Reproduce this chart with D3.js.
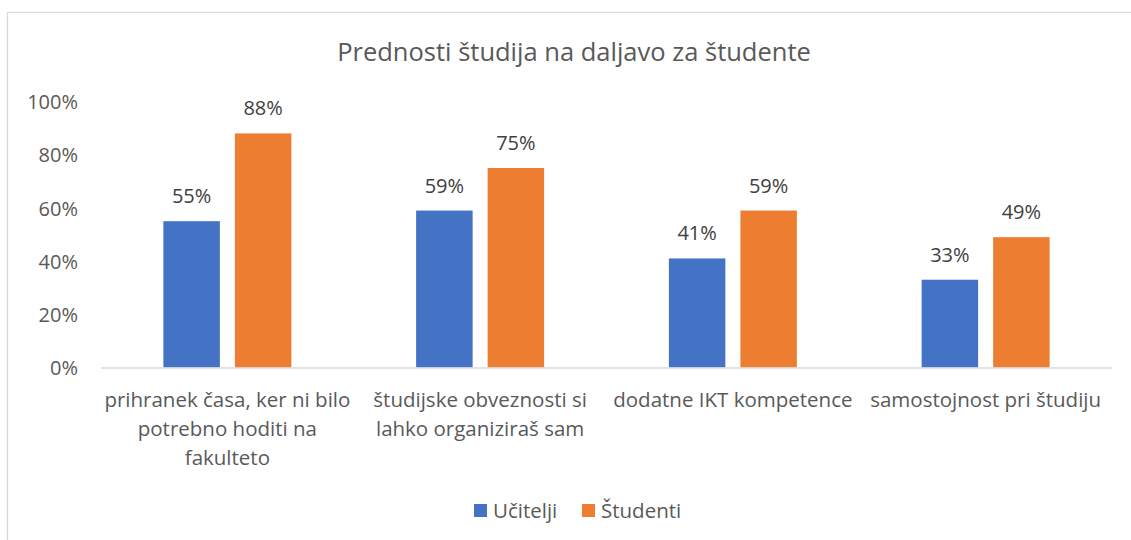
<!DOCTYPE html>
<html><head><meta charset="utf-8">
<script src="https://cdn.jsdelivr.net/npm/d3@7"></script>
<style>body{margin:0;background:#fff}svg{display:block}text{font-family:"Open Sans","Noto Sans",sans-serif}</style>
</head><body>
<svg id="c" width="1131" height="540"></svg>
<script>
const title = "Prednosti študija na daljavo za študente";
const categories = [
  ["prihranek časa, ker ni bilo", "potrebno hoditi na", "fakulteto"],
  ["študijske obveznosti si", "lahko organiziraš sam"],
  ["dodatne IKT kompetence"],
  ["samostojnost pri študiju"]
];
const seriesNames = ["Učitelji", "Študenti"];
const ucitelji = [0.55, 0.59, 0.41, 0.33];
const studenti = [0.88, 0.75, 0.59, 0.49];
const yTicks = [0, 0.2, 0.4, 0.6, 0.8, 1.0];
const colors = ["#4472C4", "#ED7D31"];

(function(){
const svg = d3.select("#c");
svg.append("rect").attr("x",7.5).attr("y",12.5).attr("width",1200).attr("height",600)
  .attr("fill","#fff").attr("stroke","#d9d9d9").attr("stroke-width",1.3);

const pLeft = 101, pRight = 1112, pTop = 101.5, pBottom = 367.5;
const catIdx = categories.map((d,i)=>i);
const x0 = d3.scaleBand().domain(catIdx).range([pLeft,pRight]).paddingInner(0).paddingOuter(0);
const x1 = d3.scaleBand().domain([0,1]).range([x0.bandwidth()/2-64, x0.bandwidth()/2+64]).paddingInner(0.21).paddingOuter(0);
const y = d3.scaleLinear().domain([0,1]).range([pBottom, pTop]);

svg.append("text").attr("x",574).attr("y",61).attr("text-anchor","middle")
  .attr("font-size",25.5).attr("fill","#595959").text(title);

const yAxis = d3.axisLeft(y).tickValues(yTicks).tickFormat(d3.format(".0%")).tickSize(0).tickPadding(0);
const ya = svg.append("g").attr("transform",`translate(78,0)`).call(yAxis);
ya.select(".domain").remove();
ya.selectAll("text").attr("font-size",20).attr("fill","#595959").attr("font-family",'"Open Sans","Noto Sans",sans-serif').attr("dy","0.36em");

const series = [ucitelji, studenti];
series.forEach((vals, s) => {
  const g = svg.append("g");
  g.selectAll("rect").data(vals).join("rect")
    .attr("x",(d,i)=>x0(i)+x1(s)).attr("width",x1.bandwidth())
    .attr("y",d=>y(d)).attr("height",d=>pBottom-y(d)).attr("fill",colors[s]);
  g.selectAll("text").data(vals).join("text")
    .attr("x",(d,i)=>x0(i)+x1(s)+x1.bandwidth()/2).attr("y",d=>y(d)-18)
    .attr("text-anchor","middle").attr("font-size",20).attr("fill","#404040")
    .text(d=>d3.format(".0%")(d));
});

svg.append("line").attr("x1",pLeft).attr("x2",pRight).attr("y1",pBottom+0.5).attr("y2",pBottom+0.5)
  .attr("stroke","#d9d9d9").attr("stroke-width",1.5);

const xa = svg.append("g");
categories.forEach((lines,i)=>{
  const t = xa.append("text").attr("text-anchor","middle").attr("font-size",20.5).attr("fill","#595959");
  lines.forEach((ln,j)=>{
    t.append("tspan").attr("x",x0(i)+x0.bandwidth()/2).attr("y",407+j*29).text(ln);
  });
});

const legX = [474, 582];
seriesNames.forEach((n,s)=>{
  svg.append("rect").attr("x",legX[s]).attr("y",504).attr("width",13).attr("height",13).attr("fill",colors[s]);
  svg.append("text").attr("x",legX[s]+19).attr("y",518).attr("font-size",20.5).attr("fill","#595959").text(n);
});
})();
</script>
</body></html>
